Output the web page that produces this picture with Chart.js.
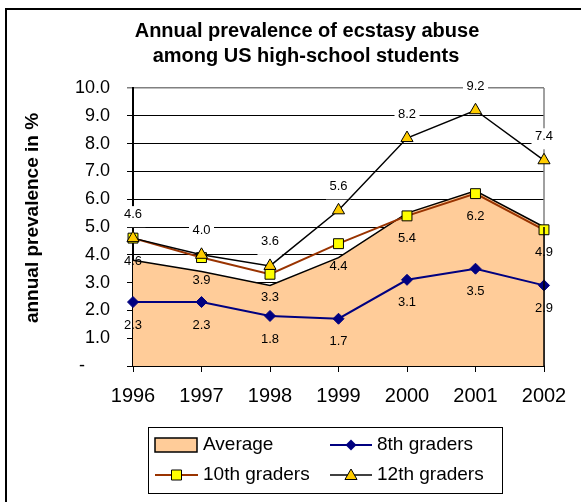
<!DOCTYPE html>
<html>
<head>
<meta charset="utf-8">
<script src="https://cdn.jsdelivr.net/npm/chart.js@4/dist/chart.umd.min.js"></script>
<style>
  body { margin: 0; background: #fff; }
  canvas { display: block; }
</style>
</head>
<body>
<canvas id="chart" width="581" height="502"></canvas>
<script>
const years = ['1996', '1997', '1998', '1999', '2000', '2001', '2002'];
const average = [3.8, 3.4, 2.9, 3.9, 5.5, 6.3, 5.0];
const grade8 = [2.3, 2.3, 1.8, 1.7, 3.1, 3.5, 2.9];
const grade10 = [4.6, 3.9, 3.3, 4.4, 5.4, 6.2, 4.9];
const grade12 = [4.6, 4.0, 3.6, 5.6, 8.2, 9.2, 7.4];
const yTickLabels = ['-', '1.0', '2.0', '3.0', '4.0', '5.0', '6.0', '7.0', '8.0', '9.0', '10.0'];

const titleLines = ['Annual prevalence of ecstasy abuse', 'among US high-school students'];
const yTitle = 'annual prevalence in %';

const FONT = '"Liberation Sans", Arial, sans-serif';

// small marker helpers for the hand drawn legend
const diamond = (ctx, x, y, r) => {
    ctx.beginPath();
    ctx.moveTo(x - r, y); ctx.lineTo(x, y - r); ctx.lineTo(x + r, y); ctx.lineTo(x, y + r);
    ctx.closePath();
};
const square = (ctx, x, y, r) => {
    ctx.beginPath();
    ctx.rect(x - r, y - r, 2 * r, 2 * r);
};
const triangle = (ctx, x, y, r) => {
    ctx.beginPath();
    ctx.moveTo(x, y - r);
    ctx.lineTo(x + r * 0.866, y + r / 2);
    ctx.lineTo(x - r * 0.866, y + r / 2);
    ctx.closePath();
};

const labelPlugin = {
    id: 'valueLabels',
    beforeDatasetsDraw(chart) {
        const ctx = chart.ctx;
        const area = chart.chartArea;
        ctx.save();
        // grey right side of the plot frame
        ctx.strokeStyle = '#808080';
        ctx.lineWidth = 1.5;
        ctx.beginPath();
        ctx.moveTo(area.right, area.top);
        ctx.lineTo(area.right, area.bottom);
        ctx.stroke();
        // white boxes behind the 12th graders labels hide the gridlines
        chart.data.datasets.forEach((ds, i) => {
            if (!ds.labelBox) return;
            const meta = chart.getDatasetMeta(i);
            meta.data.forEach(pt => {
                const y = pt.y + ds.labelShift;
                ctx.fillStyle = '#fff';
                ctx.fillRect(pt.x - 12.5, y - 8, 25, 21);
            });
        });
        ctx.restore();
    },
    afterDatasetsDraw(chart) {
        const ctx = chart.ctx;
        const area = chart.chartArea;
        ctx.save();
        // right edge of the average area
        const avg = chart.getDatasetMeta(0).data;
        const last = avg[avg.length - 1];
        ctx.strokeStyle = '#000';
        ctx.lineWidth = 1.5;
        ctx.beginPath();
        ctx.moveTo(last.x, last.y);
        ctx.lineTo(last.x, area.bottom);
        ctx.stroke();

        ctx.font = '13px ' + FONT;
        ctx.textAlign = 'center';
        ctx.textBaseline = 'middle';
        ctx.fillStyle = '#000';
        chart.data.datasets.forEach((ds, i) => {
            if (ds.labelShift === undefined) return;
            const meta = chart.getDatasetMeta(i);
            meta.data.forEach((pt, j) => {
                ctx.fillText(ds.data[j].toFixed(1), pt.x, pt.y + ds.labelShift);
            });
        });
        ctx.restore();
    },
    afterDraw(chart) {
        const ctx = chart.ctx;
        ctx.save();
        // outer chart frame
        ctx.strokeStyle = '#000';
        ctx.lineWidth = 2;
        ctx.strokeRect(6, 9, 700, 700);

        // title
        ctx.fillStyle = '#000';
        ctx.textAlign = 'center';
        ctx.textBaseline = 'middle';
        ctx.font = 'bold 20px ' + FONT;
        ctx.fillText(titleLines[0], 307, 31);
        ctx.fillText(titleLines[1], 306, 56);

        // y axis title
        ctx.save();
        ctx.translate(33, 218);
        ctx.rotate(-Math.PI / 2);
        ctx.font = 'bold 19px ' + FONT;
        ctx.fillText(yTitle, 0, 0);
        ctx.restore();

        // legend
        ctx.lineWidth = 1;
        ctx.strokeStyle = '#000';
        ctx.strokeRect(148.5, 427.5, 354, 66);
        ctx.font = '19px ' + FONT;
        ctx.textAlign = 'left';
        const ds = chart.data.datasets;
        const row1 = 445, row2 = 475;

        ctx.fillStyle = '#FFCC99';
        ctx.fillRect(155, 438, 42, 14);
        ctx.lineWidth = 1.5;
        ctx.strokeRect(155, 438, 42, 14);
        ctx.fillStyle = '#000';
        ctx.fillText(ds[0].label, 203, row1);

        const lineItem = (x1, x2, y, color, width) => {
            ctx.strokeStyle = color;
            ctx.lineWidth = width;
            ctx.beginPath();
            ctx.moveTo(x1, y); ctx.lineTo(x2, y);
            ctx.stroke();
        };

        lineItem(330, 372, row1, '#000080', 2);
        ctx.fillStyle = '#000080';
        diamond(ctx, 351, row1, 5.5);
        ctx.fill();
        ctx.fillStyle = '#000';
        ctx.fillText(ds[1].label, 377, row1);

        lineItem(155, 198, row2, '#993300', 2);
        ctx.fillStyle = '#FFFF00';
        ctx.strokeStyle = '#000';
        ctx.lineWidth = 1;
        square(ctx, 176.5, row2, 5);
        ctx.fill(); ctx.stroke();
        ctx.fillStyle = '#000';
        ctx.fillText(ds[2].label, 203, row2);

        lineItem(330, 372, row2, '#000', 1.5);
        ctx.fillStyle = '#FFCC00';
        ctx.strokeStyle = '#000';
        ctx.lineWidth = 1;
        triangle(ctx, 351, row2 + 1, 7);
        ctx.fill(); ctx.stroke();
        ctx.fillStyle = '#000';
        ctx.fillText(ds[3].label, 377, row2);

        ctx.restore();
    }
};

new Chart(document.getElementById('chart'), {
    type: 'line',
    data: {
        labels: years,
        datasets: [
            {
                label: 'Average',
                data: average,
                fill: 'origin',
                backgroundColor: '#FFCC99',
                borderColor: '#000',
                borderWidth: 1.5,
                pointRadius: 0,
                order: 4
            },
            {
                label: '8th graders',
                data: grade8,
                borderColor: '#000080',
                borderWidth: 2,
                pointStyle: 'rectRot',
                pointRadius: 5.5,
                pointBackgroundColor: '#000080',
                pointBorderColor: '#000080',
                pointBorderWidth: 1,
                order: 3,
                labelShift: 23
            },
            {
                label: '10th graders',
                data: grade10,
                borderColor: '#993300',
                borderWidth: 2,
                pointStyle: 'rect',
                pointRadius: 7,
                pointBackgroundColor: '#FFFF00',
                pointBorderColor: '#000',
                pointBorderWidth: 1,
                order: 2,
                labelShift: 23
            },
            {
                label: '12th graders',
                data: grade12,
                borderColor: '#000',
                borderWidth: 1.5,
                pointStyle: 'triangle',
                pointRadius: 7,
                pointBackgroundColor: '#FFCC00',
                pointBorderColor: '#000',
                pointBorderWidth: 1,
                order: 1,
                labelShift: -24,
                labelBox: true
            }
        ]
    },
    options: {
        responsive: false,
        animation: false,
        layout: { padding: { left: 0, top: 88, right: 37, bottom: 96 } },
        elements: { line: { tension: 0 } },
        plugins: {
            legend: { display: false },
            title: { display: false },
            tooltip: { enabled: false }
        },
        scales: {
            x: {
                offset: false,
                grid: { drawOnChartArea: false, drawTicks: true, tickLength: 6, color: '#000' },
                border: { display: true, color: '#000', width: 2 },
                ticks: { color: '#000', font: { size: 20, family: FONT }, padding: 12, maxRotation: 0 },
                afterFit: scale => { scale.height = 40; }
            },
            y: {
                min: 0,
                max: 10,
                grid: {
                    color: c => (c.tick && c.tick.value === 10 ? '#808080' : '#000'),
                    lineWidth: c => (c.tick && c.tick.value === 10 ? 1.5 : 1),
                    tickLength: 6
                },
                border: { display: true, color: '#000', width: 2 },
                ticks: {
                    stepSize: 1,
                    color: '#000',
                    padding: 17,
                    font: { size: 18, family: FONT },
                    callback: (value, index) => {
                        const t = yTickLabels[index];
                        return t === '-' ? t + '     ' : t;
                    }
                },
                afterFit: scale => { scale.width = 133; }
            }
        }
    },
    plugins: [labelPlugin]
});
</script>
</body>
</html>
